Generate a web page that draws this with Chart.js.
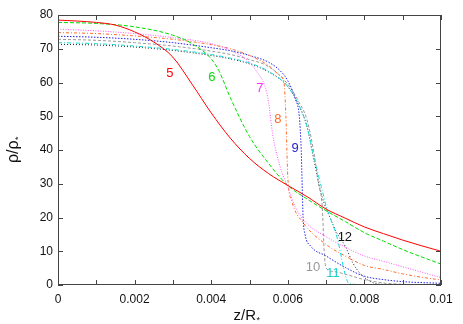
<!DOCTYPE html>
<html>
<head>
<meta charset="utf-8">
<script src="https://cdn.jsdelivr.net/npm/chart.js@4"></script>
<style>
  html, body { margin: 0; padding: 0; background: #fff; }
  #wrap { width: 463px; height: 324px; }
</style>
</head>
<body>
<div id="wrap"><canvas id="densityChart" width="463" height="324"></canvas></div>
<script>
// profiles rho/rho* vs z/R* for runs 5..12
const c5x = [0, 0.001, 0.0015, 0.002, 0.0025, 0.003, 0.0035, 0.004, 0.0045, 0.005, 0.0055, 0.006, 0.0065, 0.007, 0.0075, 0.008, 0.0085, 0.009, 0.0095, 0.01];
const c5y = [78.5, 77.8, 77, 75, 72, 67.5, 59.5, 51, 43.5, 37.5, 33, 29.5, 26.2, 22.5, 19.8, 17.2, 15.2, 13.3, 11.6, 10];

const c6x = [0, 0.001, 0.002, 0.003, 0.0035, 0.004, 0.0042, 0.0045, 0.005, 0.0055, 0.006, 0.0065, 0.007, 0.0075, 0.008, 0.0085, 0.009, 0.0095, 0.01];
const c6y = [77.8, 77.5, 76.5, 74, 71.5, 67, 63.5, 55.5, 44, 36, 29.5, 25.5, 22, 18.8, 15.5, 13, 10.5, 8.3, 6.2];

const c7x = [0, 0.001, 0.002, 0.003, 0.004, 0.0045, 0.005, 0.0052, 0.0054, 0.0055, 0.0056, 0.0058, 0.006, 0.0062, 0.0065, 0.007, 0.0075, 0.008, 0.0085, 0.009, 0.0095, 0.01];
const c7y = [75.8, 75.3, 74.5, 73.3, 71.5, 69.5, 66, 63, 59, 54, 45, 35, 29, 23, 18.2, 14.3, 11.2, 8.6, 7.0, 5.4, 3.8, 2.2];

const c8x = [0, 0.001, 0.002, 0.003, 0.004, 0.0045, 0.005, 0.0055, 0.0058, 0.0059, 0.00595, 0.006, 0.0061, 0.0064, 0.007, 0.0075, 0.008, 0.0085, 0.009, 0.0095, 0.01];
const c8y = [74.8, 74.5, 73.8, 72.8, 71.2, 70, 68, 65, 62, 60, 50, 32, 25, 18.5, 12, 8.6, 5.8, 4.6, 3.3, 2.3, 1.5];

const c9x = [0, 0.001, 0.002, 0.003, 0.004, 0.0045, 0.005, 0.0055, 0.0058, 0.006, 0.0062, 0.0063, 0.00635, 0.0064, 0.00645, 0.0066, 0.007, 0.0075, 0.008, 0.0085, 0.009, 0.01];
const c9y = [73.7, 73.4, 72.8, 71.8, 70.3, 69.4, 68, 66, 63.5, 60.5, 55, 50, 40, 20, 15, 11.5, 8.6, 5.2, 2.6, 1.6, 1.0, 0.5];

const c10x = [0, 0.001, 0.002, 0.003, 0.004, 0.0045, 0.005, 0.0055, 0.006, 0.0063, 0.0065, 0.0067, 0.0068, 0.0069, 0.00695, 0.007, 0.0072, 0.0075, 0.008, 0.0085, 0.009, 0.01];
const c10y = [72.8, 72.5, 71.8, 70.8, 69.3, 68.3, 66.8, 64.7, 59.5, 54, 49, 38, 30, 23, 10, 5, 4, 3.2, 1.6, 0.6, 0.2, 0];

const c11x = [0, 0.001, 0.002, 0.003, 0.004, 0.0045, 0.005, 0.0055, 0.006, 0.0063, 0.0065, 0.0067, 0.0069, 0.007, 0.0073, 0.0075, 0.0076, 0.008, 0.01];
const c11y = [71.8, 71.5, 70.8, 69.8, 68.3, 67.2, 65.8, 63.3, 58.8, 53, 47, 37, 28, 23.5, 13.5, 3, 0.4, 0.1, 0];

const c12x = [0, 0.001, 0.002, 0.003, 0.004, 0.0045, 0.005, 0.0055, 0.006, 0.0063, 0.0065, 0.0067, 0.0069, 0.0071, 0.0073, 0.0075, 0.0077, 0.0079, 0.0082, 0.0085, 0.01];
const c12y = [71.3, 71.1, 70.5, 69.5, 68, 67, 65.5, 63.1, 58.8, 53, 47, 36, 26, 20, 15, 11.5, 6.5, 3.3, 0.8, 0.2, 0];

const runNames = ['5', '6', '7', '8', '9', '10', '11', '12'];
const runColors = ['#ff0000', '#00dd00', '#ff55ff', '#ff6a2a', '#2323e6', '#999999', '#11dddd', '#222222'];
const runDashes = [[], [4, 2], [1, 1.5], [3, 2, 1, 2], [1.5, 1.5], [3, 2], [4, 2, 1, 2], [1, 2]];
const runXs = [c5x, c6x, c7x, c8x, c9x, c10x, c11x, c12x];
const runYs = [c5y, c6y, c7y, c8y, c9y, c10y, c11y, c12y];

// in-plot curve labels (data coords)
const labelX = [0.00292, 0.00402, 0.00527, 0.00574, 0.00619, 0.00666, 0.00718, 0.00749];
const labelY = [62.8, 61.6, 58.1, 49.2, 40.6, 5.3, 3.5, 14.2];
const labelColors = ['#ff0000', '#00dd00', '#ff33ff', '#ff6a2a', '#2323c8', '#999999', '#22cccc', '#111111'];

const xTickStep = 0.001;
const yTickStep = 10;
const fontFam = '"Liberation Sans", Arial, sans-serif';

const datasets = runNames.map((name, i) => ({
  label: name,
  data: runXs[i].map((x, j) => ({ x: x, y: runYs[i][j] })),
  borderColor: runColors[i],
  borderWidth: 1,
  borderDash: runDashes[i],
  pointRadius: 0,
  fill: false,
  cubicInterpolationMode: 'monotone'
}));

// text with a small lowered star after it, centred on (cx, baseline)
function starTitle(ctx, base, size, cx, baseline) {
  ctx.font = size + 'px ' + fontFam;
  const w1 = ctx.measureText(base).width;
  ctx.font = '9px ' + fontFam;
  const w2 = ctx.measureText('*').width;
  const x0 = cx - (w1 + w2) / 2;
  ctx.textAlign = 'left';
  ctx.textBaseline = 'alphabetic';
  ctx.font = size + 'px ' + fontFam;
  ctx.fillText(base, x0, baseline);
  ctx.font = '9px ' + fontFam;
  ctx.fillText('*', x0 + w1 + 0.5, baseline + 2.5);
}

const frameTicks = {
  id: 'frameTicks',
  afterDatasetsDraw(chart) {
    const { ctx, chartArea: a, scales } = chart;
    ctx.save();
    ctx.strokeStyle = '#444';
    ctx.lineWidth = 1;
    ctx.strokeRect(a.left + 0.5, a.top + 0.5, a.right - a.left - 1, a.bottom - a.top - 1);
    ctx.beginPath();
    scales.x.ticks.forEach((t) => {
      const px = Math.round(scales.x.getPixelForValue(t.value)) + 0.5;
      ctx.moveTo(px, a.bottom); ctx.lineTo(px, a.bottom - 5);
      ctx.moveTo(px, a.top); ctx.lineTo(px, a.top + 5);
    });
    scales.y.ticks.forEach((t) => {
      const py = Math.round(scales.y.getPixelForValue(t.value)) + 0.5;
      ctx.moveTo(a.left, py); ctx.lineTo(a.left + 5, py);
      ctx.moveTo(a.right, py); ctx.lineTo(a.right - 5, py);
    });
    ctx.stroke();

    ctx.font = '13px ' + fontFam;
    ctx.textAlign = 'center';
    ctx.textBaseline = 'middle';
    runNames.forEach((name, i) => {
      ctx.fillStyle = labelColors[i];
      ctx.fillText(name, scales.x.getPixelForValue(labelX[i]), scales.y.getPixelForValue(labelY[i]));
    });

    // axis titles
    ctx.fillStyle = '#111';
    starTitle(ctx, 'z/R', 15, (a.left + a.right) / 2 - 3, 320);
    ctx.save();
    ctx.translate(18, (a.top + a.bottom) / 2);
    ctx.rotate(-Math.PI / 2);
    starTitle(ctx, 'ρ/ρ', 16, 0, 0);
    ctx.restore();
    ctx.restore();
  }
};

new Chart(document.getElementById('densityChart'), {
  type: 'line',
  data: { datasets: datasets },
  options: {
    responsive: false,
    animation: false,
    layout: { padding: { top: 15, right: 22, left: 0, bottom: 0 } },
    plugins: { legend: { display: false }, tooltip: { enabled: false } },
    scales: {
      x: {
        type: 'linear',
        min: 0,
        max: 0.01,
        grid: { display: false, drawTicks: false },
        border: { display: false },
        afterFit: (s) => { s.height = 39; },
        afterBuildTicks: (s) => {
          s.ticks = [];
          for (let i = 0; i <= 10; i++) s.ticks.push({ value: i * xTickStep });
        },
        ticks: {
          autoSkip: false,
          maxRotation: 0,
          padding: 7,
          color: '#111',
          font: { family: fontFam, size: 12 },
          callback: (v) => {
            const k = Math.round(v / xTickStep);
            return k % 2 === 0 ? String(+v.toFixed(3)) : '';
          }
        }
      },
      y: {
        min: 0,
        max: 80,
        grid: { display: false, drawTicks: false },
        border: { display: false },
        afterFit: (s) => { s.width = 58; },
        ticks: {
          stepSize: yTickStep,
          padding: 5,
          color: '#111',
          font: { family: fontFam, size: 12 }
        }
      }
    }
  },
  plugins: [frameTicks]
});
</script>
</body>
</html>
